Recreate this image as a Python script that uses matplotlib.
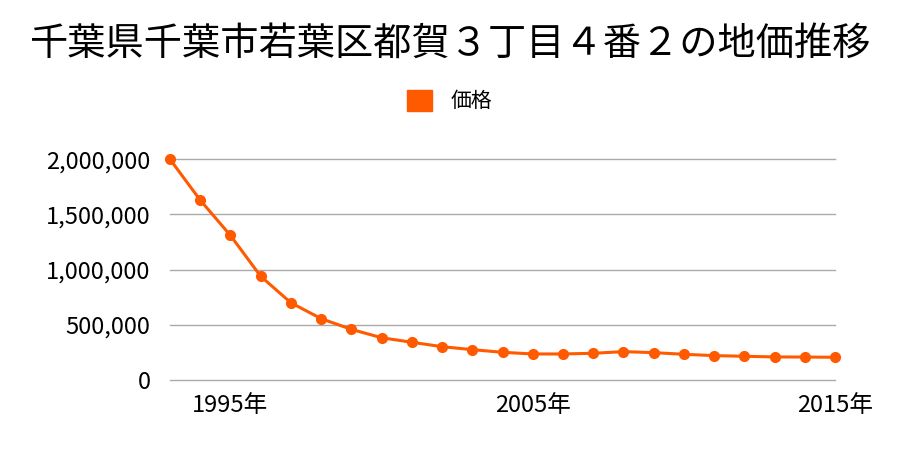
import numpy as np
import matplotlib
matplotlib.use('Agg')
import matplotlib.pyplot as plt
from matplotlib.ticker import FuncFormatter

plt.rcParams['font.family'] = ['Noto Sans CJK JP', 'DejaVu Sans']

years = list(range(1993, 2016))
prices = [2000000, 1630000, 1310000, 940000, 700000, 556000, 459000,
          383000, 342000, 302000, 275000, 251000, 236000, 236000, 242000,
          257000, 248000, 233000, 221000, 215000, 209000, 208000, 206000]
xticks = [1995, 2005, 2015]
yticks = [0, 500000, 1000000, 1500000, 2000000]
title = '千葉県千葉市若葉区都賀３丁目４番２の地価推移'
color = '#ff5a00'

fig = plt.figure(figsize=(9, 4.5), dpi=100)
ax = fig.add_axes([170 / 900, 1 - 380 / 450, 665 / 900, 220.7 / 450])

ax.plot(years, prices, color=color, lw=2.2, marker='o', ms=7, clip_on=False,
        label='価格', zorder=3)
ax.set_xlim(1993, 2015)
ax.set_ylim(0, 2000000)
ax.set_xticks(xticks)
ax.set_xticklabels([f'{y}年' for y in xticks])
ax.set_yticks(yticks)
ax.yaxis.set_major_formatter(FuncFormatter(lambda v, p: f'{int(v):,}'))
ax.grid(axis='y', color='#aaaaaa', lw=1)
for gl in ax.get_ygridlines():
    gl.set_clip_on(False)
ax.set_axisbelow(True)
for s in ax.spines.values():
    s.set_visible(False)
ax.tick_params(length=0, labelsize=17, pad=14)
ax.tick_params(axis='x', pad=10)

fig.text(0.5, 1 - 44 / 450, title, ha='center', va='center', fontsize=27.5)
leg = fig.legend(handles=[plt.Rectangle((0, 0), 1, 1, color=color)], labels=['価格'],
                 loc='center', bbox_to_anchor=(0.5, 1 - 101 / 450), frameon=False,
                 fontsize=15, handlelength=1.2, handleheight=1.2, handletextpad=0.9)

fig.savefig('out.png', dpi=100)
